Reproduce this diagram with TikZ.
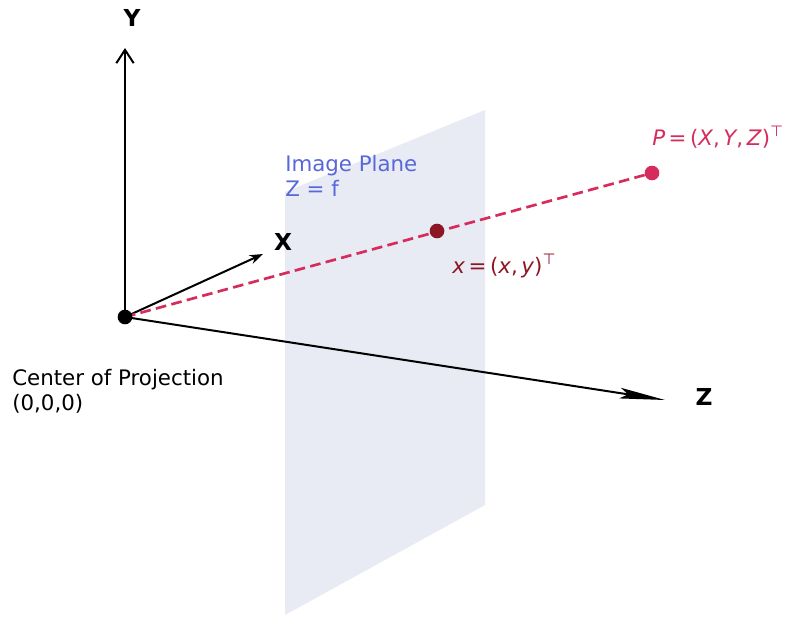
\documentclass[tikz,border=0pt]{standalone}
\usepackage{fontspec}
\setmainfont{DejaVu Sans}
\usetikzlibrary{arrows.meta,positioning}

\definecolor{planefill}{RGB}{232,234,244}
\definecolor{planeblue}{RGB}{88,104,218}
\definecolor{raycol}{RGB}{214,44,92}
\definecolor{imgcol}{RGB}{140,22,36}

\tikzset{
    dot/.style={circle, inner sep=0pt, minimum size=11pt},
    axis/.style={line width=1.5pt},
    lbl/.style={font=\fontsize{16pt}{18.75pt}\selectfont, inner sep=0pt},
    axlbl/.style={font=\fontsize{17.5pt}{20pt}\selectfont\bfseries, inner sep=0pt}
}

\begin{document}
\begin{tikzpicture}[x=0.75pt, y=-0.75pt, node distance=4pt]
    \useasboundingbox (0,0) rectangle (787,617);
    % image plane
    \fill[planefill] (285,192) -- (485,110) -- (485,505) -- (285,615) -- cycle;
    \node[lbl, text=planeblue, anchor=base west] (plane) at (285,171) {Image Plane};
    \node[lbl, text=planeblue, anchor=base west] (planez) at (285,196) {Z = f};
    % axes
    \coordinate (O) at (125,317);
    \coordinate (Ytip) at (125,48);
    \coordinate (Xtip) at (263,254);
    \coordinate (Ztip) at (665,400);
    \draw[axis, -{Straight Barb[length=10pt, width=13pt, line width=1.5pt]}] (O) -- (Ytip);
    \draw[axis, -{Stealth[length=10pt, width=7pt]}] (O) -- (Xtip);
    \draw[axis, -{Stealth[length=34pt, width=8pt, inset=6pt]}] (O) -- (Ztip);
    \node[axlbl] (ylab) at (132,18) {Y};
    \node[axlbl] (xlab) at (283,242) {X};
    \node[axlbl] (zlab) at (704,397) {Z};
    % projection ray
    \coordinate (P) at (652,173);
    \coordinate (ximg) at (437,231);
    \draw[raycol, line width=2pt, dash pattern=on 8pt off 4pt] (O) -- (P);
    \node[dot, fill=black] (cop) at (O) {};
    \node[dot, fill=imgcol] (xdot) at (ximg) {};
    \node[dot, fill=raycol] (Pdot) at (P) {};
    \node[lbl, text=raycol, anchor=base west] (Plab) at (652,145)
        {\textit{P}\,=\,(\textit{X},\,\textit{Y},\,\textit{Z})\textsuperscript{⊤}};
    \node[lbl, text=imgcol, anchor=base west] (xlab2) at (452,273)
        {\textit{x}\,=\,(\textit{x},\,\textit{y})\textsuperscript{⊤}};
    \node[lbl, anchor=base west, align=left] (coplab) at (12,410)
        {Center of Projection\\(0,0,0)};
\end{tikzpicture}
\end{document}
